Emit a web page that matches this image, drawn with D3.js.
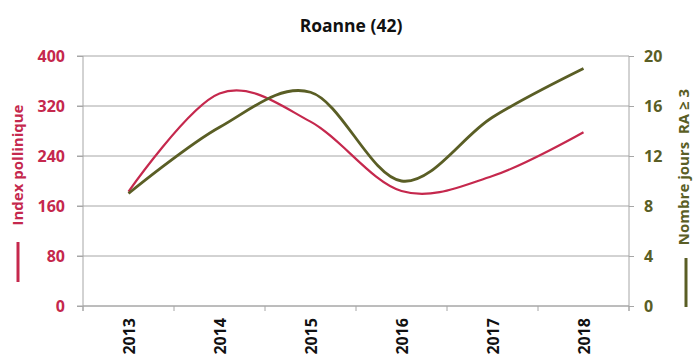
<!DOCTYPE html>
<html><head><meta charset="utf-8">
<script src="https://cdn.jsdelivr.net/npm/d3@7"></script>
<style>body{margin:0;background:#fff}svg{display:block}</style>
</head><body>
<script>
const years = ["2013","2014","2015","2016","2017","2018"];
const indexPollinique = [183, 340, 295, 184, 208, 278];
const nombreJours = [9.0, 14.3, 17.1, 10.0, 15.1, 19.0];
const leftTicks = [0, 80, 160, 240, 320, 400];
const rightTicks = [0, 4, 8, 12, 16, 20];

const W = 694, H = 358;
const m = {left: 83, right: 629, top: 56, bottom: 306};
const red = "#c5284d", olive = "#5a5e25", grid = "#a6a6a6";
const font = "'Open Sans', 'Noto Sans', sans-serif";

const svg = d3.select("body").append("svg").attr("width", W).attr("height", H)
  .style("font-family", font);

const x = d3.scaleBand().domain(years).range([m.left, m.right]);
const yL = d3.scaleLinear().domain([0, 400]).range([m.bottom, m.top]);
const yR = d3.scaleLinear().domain([0, 20]).range([m.bottom, m.top]);

// gridlines
svg.append("g").selectAll("line").data(leftTicks).join("line")
  .attr("x1", m.left - 6).attr("x2", m.right)
  .attr("y1", d => yL(d)).attr("y2", d => yL(d))
  .attr("stroke", grid).attr("stroke-width", 1);

// left axis
const gl = svg.append("g").attr("transform", `translate(${m.left},0)`)
  .call(d3.axisLeft(yL).tickValues(leftTicks).tickSize(6).tickPadding(8));
gl.select(".domain").remove();
gl.selectAll(".tick line").attr("stroke", grid);
gl.selectAll(".tick text").attr("fill", red).style("font-size", "16px")
  .style("font-weight", "bold").style("font-family", font).attr("x", -18);
svg.append("line").attr("x1", m.left).attr("x2", m.left)
  .attr("y1", m.top).attr("y2", m.bottom + 5).attr("stroke", grid);

// right axis
const gr = svg.append("g").attr("transform", `translate(${m.right},0)`)
  .call(d3.axisRight(yR).tickValues(rightTicks).tickSize(5).tickPadding(10));
gr.select(".domain").remove();
gr.selectAll(".tick line").attr("stroke", grid);
gr.selectAll(".tick text").attr("fill", olive).style("font-size", "16px")
  .style("font-weight", "bold").style("font-family", font).attr("x", 15);
svg.append("line").attr("x1", m.right).attr("x2", m.right)
  .attr("y1", m.top).attr("y2", m.bottom + 5).attr("stroke", grid);

// bottom axis
svg.append("line").attr("x1", m.left).attr("x2", m.right)
  .attr("y1", m.bottom).attr("y2", m.bottom).attr("stroke", grid);
const edges = years.map(d => x(d)).concat([m.right]);
svg.append("g").selectAll("line").data(edges).join("line")
  .attr("x1", d => d).attr("x2", d => d)
  .attr("y1", m.bottom).attr("y2", m.bottom + 5).attr("stroke", grid);
svg.append("g").selectAll("text").data(years).join("text")
  .attr("transform", d => `translate(${x(d) + x.bandwidth()/2 + 6},318) rotate(-90)`)
  .attr("text-anchor", "end")
  .style("font-size", "16px").style("font-weight", "bold").attr("fill", "#111")
  .text(d => d);

// lines
const cx = d => x(d) + x.bandwidth()/2;
const lineL = d3.line().x((d, i) => cx(years[i])).y(d => yL(d)).curve(d3.curveCatmullRom.alpha(0));
const lineR = d3.line().x((d, i) => cx(years[i])).y(d => yR(d)).curve(d3.curveCatmullRom.alpha(0));
svg.append("path").attr("d", lineL(indexPollinique)).attr("fill", "none")
  .attr("stroke", red).attr("stroke-width", 2.2);
svg.append("path").attr("d", lineR(nombreJours)).attr("fill", "none")
  .attr("stroke", olive).attr("stroke-width", 2.8);

// title
svg.append("text").attr("x", 351).attr("y", 32).attr("text-anchor", "middle")
  .style("font-size", "17.5px").style("font-weight", "bold").attr("fill", "#111")
  .text("Roanne (42)");

// left axis title
svg.append("line").attr("x1", 18).attr("x2", 18).attr("y1", 242).attr("y2", 282)
  .attr("stroke", red).attr("stroke-width", 3);
svg.append("text").attr("transform", "translate(23,165) rotate(-90)")
  .attr("text-anchor", "middle").style("font-size", "15px").style("font-weight", "bold")
  .attr("fill", red).text("Index pollinique");

// right axis title
svg.append("line").attr("x1", 686).attr("x2", 686).attr("y1", 258).attr("y2", 307)
  .attr("stroke", olive).attr("stroke-width", 3);
svg.append("text").attr("transform", "translate(689,167) rotate(-90)")
  .attr("text-anchor", "middle").style("font-size", "15px").style("font-weight", "bold")
  .style("white-space", "pre")
  .attr("fill", olive).text("Nombre jours  RA \u2265 3");
</script>
</body></html>
